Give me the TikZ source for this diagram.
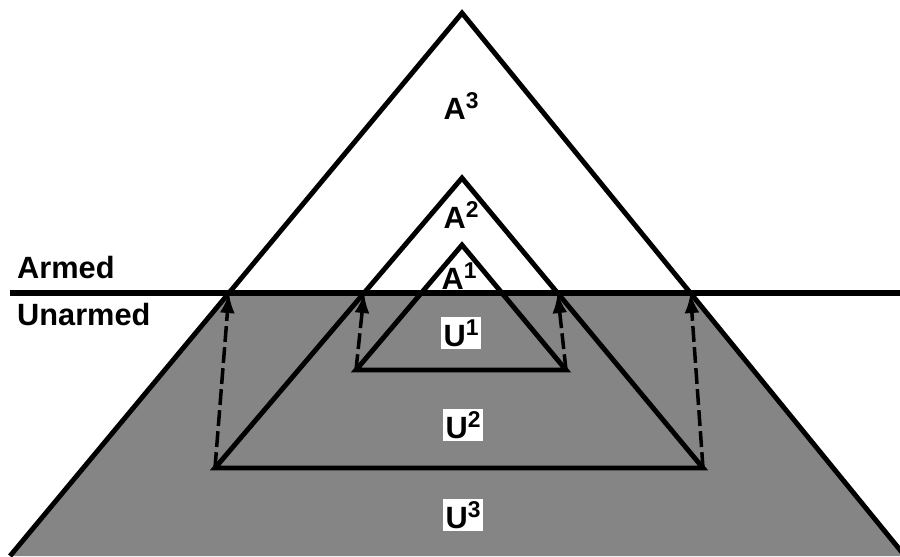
\documentclass[tikz,border=0pt]{standalone}
\usepackage{fontspec}
\setsansfont{Liberation Sans}
\usetikzlibrary{arrows.meta, calc}
\newcommand{\hi}[1]{\raisebox{6pt}{\fontsize{13}{14}\selectfont #1}}

\begin{document}
\begin{tikzpicture}[
    x=0.02cm, y=-0.02cm,
    >={Latex[length=4mm, width=3mm]},
    every node/.style={font=\sffamily\bfseries\fontsize{17.5}{20}\selectfont},
    edge/.style={line width=2.8pt, line join=miter},
    lift/.style={->, line width=2pt, dash pattern=on 9pt off 3pt},
    shade/.style={fill=black!48},
    tag/.style={fill=white, inner sep=1.5pt},
]
\useasboundingbox (0,0) rectangle (900,556);
\clip (0,0) rectangle (900,556);
% the armed/unarmed line
\coordinate (lineL) at (10,293);
\coordinate (lineR) at (900,293);
% corners of the three triangles
\coordinate (top3) at (462,13);
\coordinate (bl3) at (10,556);
\coordinate (br3) at (905,556);
\coordinate (top2) at (462,178);
\coordinate (bl2) at (215,468);
\coordinate (br2) at (703,468);
\coordinate (top1) at (462,245);
\coordinate (bl1) at (356,370);
\coordinate (br1) at (566,370);
% where the sides cross the line
\coordinate (x3l) at (intersection of top3--bl3 and lineL--lineR);
\coordinate (x3r) at (intersection of top3--br3 and lineL--lineR);
\coordinate (x2l) at (intersection of top2--bl2 and lineL--lineR);
\coordinate (x2r) at (intersection of top2--br2 and lineL--lineR);
% unarmed part shaded
\fill[shade] (x3l) -- (x3r) -- (br3) -- (bl3) -- cycle;
% triangles
\draw[edge] (bl3) -- (top3) -- (br3);
\draw[edge] (top2) -- (bl2) -- (br2) -- cycle;
\draw[edge] (top1) -- (bl1) -- (br1) -- cycle;
\draw[line width=3.2pt] (lineL) -- (lineR);
% dashed lifts up to the line
\draw[lift] (bl1) -- (x2l);
\draw[lift] (br1) -- (x2r);
\draw[lift] (bl2) -- (x3l);
\draw[lift] (br2) -- (x3r);
% labels
\node[anchor=base west] (armed) at (11,278) {Armed};
\node[anchor=base west] (unarmed) at (11,325) {Unarmed};
\node[anchor=base] (a3) at (461,119) {A\hi{3}};
\node[anchor=base] (a2) at (461,228) {A\hi{2}};
\node[anchor=base, inner sep=0pt] (a1) at (459,289) {A\hi{1}};
\node[tag, anchor=base] (u1) at (461,346) {U\hi{1}};
\node[tag, anchor=base] (u2) at (463,438) {U\hi{2}};
\node[tag, anchor=base] (u3) at (463,528) {U\hi{3}};
\end{tikzpicture}
\end{document}
